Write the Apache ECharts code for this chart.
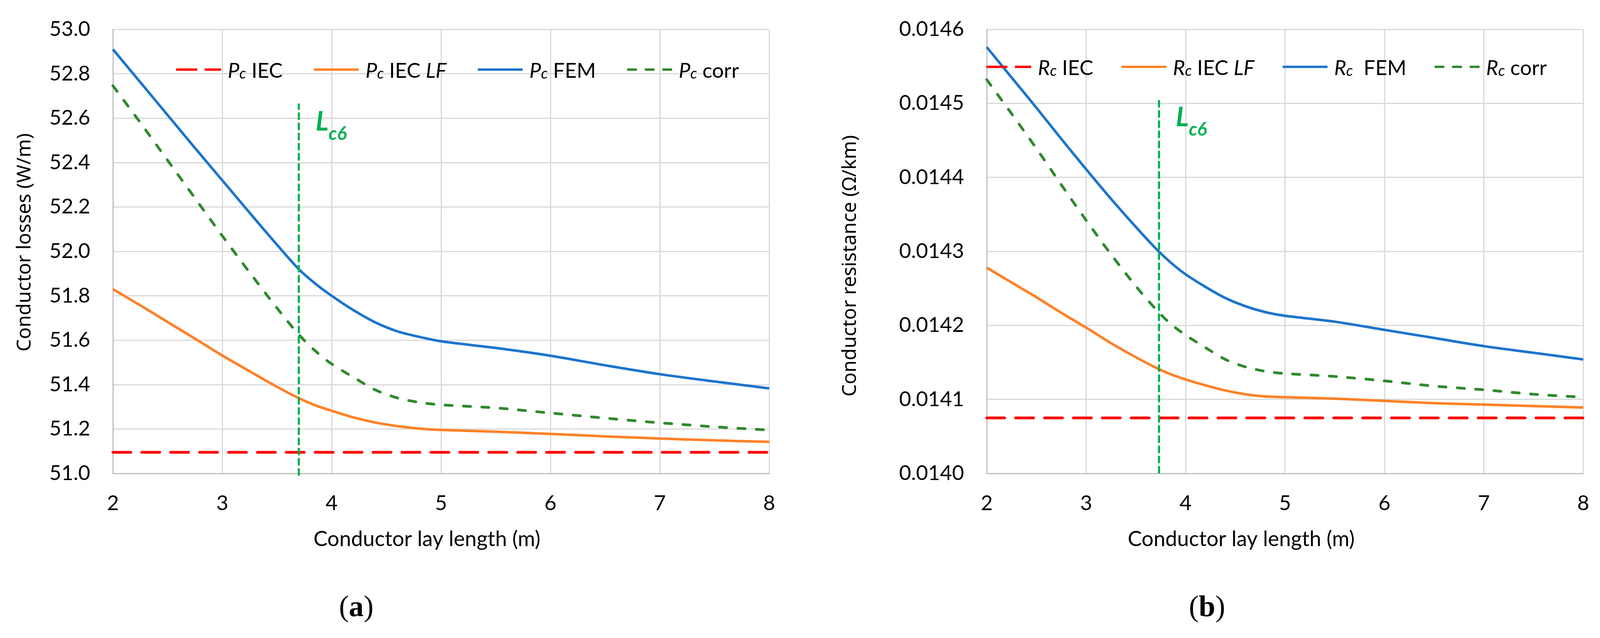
<!DOCTYPE html>
<html><head><meta charset="utf-8">
<script src="https://cdn.jsdelivr.net/npm/echarts@6/dist/echarts.min.js"></script>
<style>html,body{margin:0;padding:0;background:#fff}#c{width:4107px;height:1632px}</style>
</head><body><div id="c"></div>
<script>
// ---- data ----
const layLength = [2, 2.25, 2.5, 2.75, 3, 3.25, 3.5, 3.7, 3.85, 4, 4.2, 4.4, 4.6, 4.8, 5, 5.5, 6, 6.5, 7, 7.5, 8];
const pcFEM   = [52.91, 52.762, 52.614, 52.466, 52.32, 52.174, 52.03, 51.92, 51.855, 51.80, 51.735, 51.68, 51.64, 51.615, 51.595, 51.565, 51.53, 51.487, 51.447, 51.414, 51.383];
const pcIECLF = [51.83, 51.757, 51.682, 51.607, 51.531, 51.46, 51.39, 51.339, 51.307, 51.282, 51.252, 51.229, 51.213, 51.202, 51.196, 51.188, 51.178, 51.167, 51.157, 51.149, 51.142];
const pcCorr  = [52.746, 52.58, 52.41, 52.24, 52.07, 51.905, 51.745, 51.625, 51.552, 51.493, 51.433, 51.376, 51.34, 51.32, 51.309, 51.295, 51.272, 51.249, 51.228, 51.21, 51.195];
const pcIEC   = 51.095;
const rcFEM   = [0.014576, 0.014535, 0.014494, 0.014452, 0.014411, 0.014371, 0.014333, 0.014304, 0.014285, 0.014269, 0.014252, 0.014237, 0.014226, 0.014218, 0.014213, 0.014205, 0.014194, 0.014183, 0.014172, 0.014163, 0.014154];
const rcIECLF = [0.014278, 0.014258, 0.014238, 0.014217, 0.014197, 0.014176, 0.014157, 0.014143, 0.014134, 0.014127, 0.014119, 0.014112, 0.014107, 0.014104, 0.014103, 0.014101, 0.014098, 0.014095, 0.014093, 0.014091, 0.014089];
const rcCorr  = [0.014532, 0.014486, 0.014439, 0.014390, 0.014342, 0.014296, 0.014253, 0.014222, 0.014202, 0.014187, 0.014170, 0.014154, 0.014144, 0.014138, 0.014135, 0.014131, 0.014125, 0.014118, 0.014113, 0.014107, 0.014103];
const rcIEC   = 0.014075;
const xRange  = [2, 8];
const xStep   = 1;
const pcRange = [51.0, 53.0];
const pcStep  = 0.2;
const rcRange = [0.0140, 0.0146];
const rcStep  = 0.0001;
const lc6Left  = {x: 3.70, y: [50.99, 52.666]};
const lc6Right = {x: 3.733, y: [0.0140, 0.014506]};
const leftNames  = ['Pc IEC', 'Pc IEC LF', 'Pc FEM', 'Pc corr'];
const rightNames = ['Rc IEC', 'Rc IEC LF', 'Rc FEM', 'Rc corr'];

// ---- build ----
const pairs = (xs, ys) => xs.map((x, i) => [x, ys[i]]);
const flat = (v) => [[xRange[0], v], [xRange[1], v]];

const COL = {iec: '#FF0000', lf: '#FF8126', fem: '#1C74CC', corr: '#2F8A2C', lc: '#00B050'};
const FONT = 'Lato';

// legend icons (115 x 6 boxes)
const ICON_SOLID = 'path://M0,0H115V6H0Z';
const ICON_LONGDASH = 'path://M0,0H54V6H0Z M73,0H115V6H73Z';
const ICON_SHORTDASH = 'path://M0,0H25V6H0Z M45,0H70V6H45Z M90,0H115V6H90Z';
const legendIcons = [ICON_LONGDASH, ICON_SOLID, ICON_SOLID, ICON_SHORTDASH];

const richLegend = {
  g: {width: 12},
  i: {fontStyle: 'italic', fontSize: 53, fontFamily: FONT, color: '#000', verticalAlign: 'bottom', lineHeight: 60},
  s: {fontStyle: 'italic', fontSize: 38, fontFamily: FONT, color: '#000', verticalAlign: 'bottom', lineHeight: 52},
  t: {fontSize: 53, fontFamily: FONT, color: '#000', verticalAlign: 'bottom', lineHeight: 60}
};
function legendText(name) {
  const sym = name.charAt(0);
  const rest = name.slice(3);
  if (rest === 'IEC LF') return '{g|}{i|' + sym + '}{s|c}{t| IEC }{i|LF}';
  if (rest === 'FEM' && sym === 'R') return '{g|}{i|' + sym + '}{s|c}{t|  FEM}';
  return '{g|}{i|' + sym + '}{s|c}{t| ' + rest + '}';
}

function xAxisCfg(gridIndex, padRight) {
  return {
    type: 'value', gridIndex, min: xRange[0], max: xRange[1], interval: xStep,
    name: 'Conductor lay length (m)', nameLocation: 'middle', nameGap: 142,
    nameTextStyle: {fontFamily: FONT, fontSize: 54, color: '#000', padding: [0, padRight, 0, 0]},
    axisLine: {show: true, lineStyle: {color: '#BFBFBF', width: 3}},
    axisTick: {show: false},
    axisLabel: {fontFamily: FONT, fontSize: 53, color: '#000', margin: 50},
    splitLine: {show: true, lineStyle: {color: '#D9D9D9', width: 3}}
  };
}
function yAxisCfg(gridIndex, range, step, dec, name, gap, pad) {
  return {
    type: 'value', gridIndex, min: range[0], max: range[1], interval: step,
    name, nameLocation: 'middle', nameGap: gap,
    nameTextStyle: {fontFamily: 'Noto Sans', fontSize: 50, color: '#000', padding: pad},
    axisLine: {show: true, lineStyle: {color: '#BFBFBF', width: 3}},
    axisTick: {show: false},
    axisLabel: {fontFamily: FONT, fontSize: 53, color: '#000', margin: 58, formatter: (v) => v.toFixed(dec)},
    splitLine: {show: true, lineStyle: {color: '#D9D9D9', width: 3}}
  };
}
function lineSeries(name, data, idx, color, width, dash) {
  return {
    type: 'line', name, data, xAxisIndex: idx, yAxisIndex: idx,
    showSymbol: false, symbol: 'none', smooth: 0.3,
    lineStyle: {color, width, type: dash || 'solid', cap: dash ? 'round' : 'butt'},
    itemStyle: {color}, z: 3
  };
}
function lcSeries(lc, idx) {
  return {
    type: 'line', name: 'Lc6', xAxisIndex: idx, yAxisIndex: idx, clip: false,
    data: [[lc.x, lc.y[0]], [lc.x, lc.y[1]]],
    showSymbol: false, symbol: 'none',
    lineStyle: {color: COL.lc, width: 5.5, type: [19, 7]}, z: 4,
    markPoint: {
      symbol: 'rect', symbolSize: 2, itemStyle: {color: 'rgba(0,0,0,0)'}, silent: true,
      data: [{coord: [lc.x, lc.y[1]]}],
      label: {
        show: true, position: [44, 34], formatter: '{L|L}{s|c6}',
        rich: {
          L: {fontFamily: FONT, fontWeight: 'bold', fontStyle: 'italic', fontSize: 69, color: COL.lc, lineHeight: 69, verticalAlign: 'bottom', padding: [0, 0, 20, 0]},
          s: {fontFamily: FONT, fontWeight: 'bold', fontStyle: 'italic', fontSize: 47, color: COL.lc, lineHeight: 47, verticalAlign: 'bottom'}
        }
      }
    }
  };
}
function legendCfg(names, left, top, gap) {
  return {
    data: names.map((n, i) => ({name: n, icon: legendIcons[i]})), left, top, orient: 'horizontal', itemGap: gap,
    itemWidth: 115, itemHeight: 6,
    formatter: legendText, textStyle: {rich: richLegend}, selectedMode: false
  };
}

const option = {
  animation: false,
  backgroundColor: '#fff',
  textStyle: {fontFamily: FONT},
  grid: [
    {left: 289, top: 75, width: 1680, height: 1136},
    {left: 2526, top: 75, width: 1527, height: 1136}
  ],
  xAxis: [xAxisCfg(0, 72), xAxisCfg(1, 224)],
  yAxis: [
    yAxisCfg(0, pcRange, pcStep, 1, 'Conductor losses (W/m)', 200, [0, 0, 0, 46]),
    yAxisCfg(1, rcRange, rcStep, 4, 'Conductor resistance (Ω/km)', 324, [0, 74, 0, 0])
  ],
  legend: [legendCfg(leftNames, 446, 150, 80), legendCfg(rightNames, 2520, 143, 72)],
  series: [
    lineSeries(leftNames[0], flat(pcIEC), 0, COL.iec, 7, [46, 28]),
    lineSeries(leftNames[1], pairs(layLength, pcIECLF), 0, COL.lf, 6.5),
    lineSeries(leftNames[2], pairs(layLength, pcFEM), 0, COL.fem, 6.5),
    lineSeries(leftNames[3], pairs(layLength, pcCorr), 0, COL.corr, 7, [18, 29]),
    lcSeries(lc6Left, 0),
    lineSeries(rightNames[0], flat(rcIEC), 1, COL.iec, 7, [46, 28]),
    lineSeries(rightNames[1], pairs(layLength, rcIECLF), 1, COL.lf, 6.5),
    lineSeries(rightNames[2], pairs(layLength, rcFEM), 1, COL.fem, 6.5),
    lineSeries(rightNames[3], pairs(layLength, rcCorr), 1, COL.corr, 7, [18, 29]),
    lcSeries(lc6Right, 1)
  ],
  graphic: [
    {type: 'text', x: 912, y: 1556, style: {text: '{p|(}{b|a}{p|)}', align: 'center', verticalAlign: 'middle',
      rich: {p: {fontFamily: 'Liberation Serif', fontSize: 76, fill: '#000'}, b: {fontFamily: 'Liberation Serif', fontSize: 76, fontWeight: 'bold', fill: '#000'}}}},
    {type: 'text', x: 3090, y: 1556, style: {text: '{p|(}{b|b}{p|)}', align: 'center', verticalAlign: 'middle',
      rich: {p: {fontFamily: 'Liberation Serif', fontSize: 76, fill: '#000'}, b: {fontFamily: 'Liberation Serif', fontSize: 76, fontWeight: 'bold', fill: '#000'}}}}
  ]
};
const chart = echarts.init(document.getElementById('c'), null, {renderer: 'canvas'});
chart.setOption(option);
</script>
</body></html>
